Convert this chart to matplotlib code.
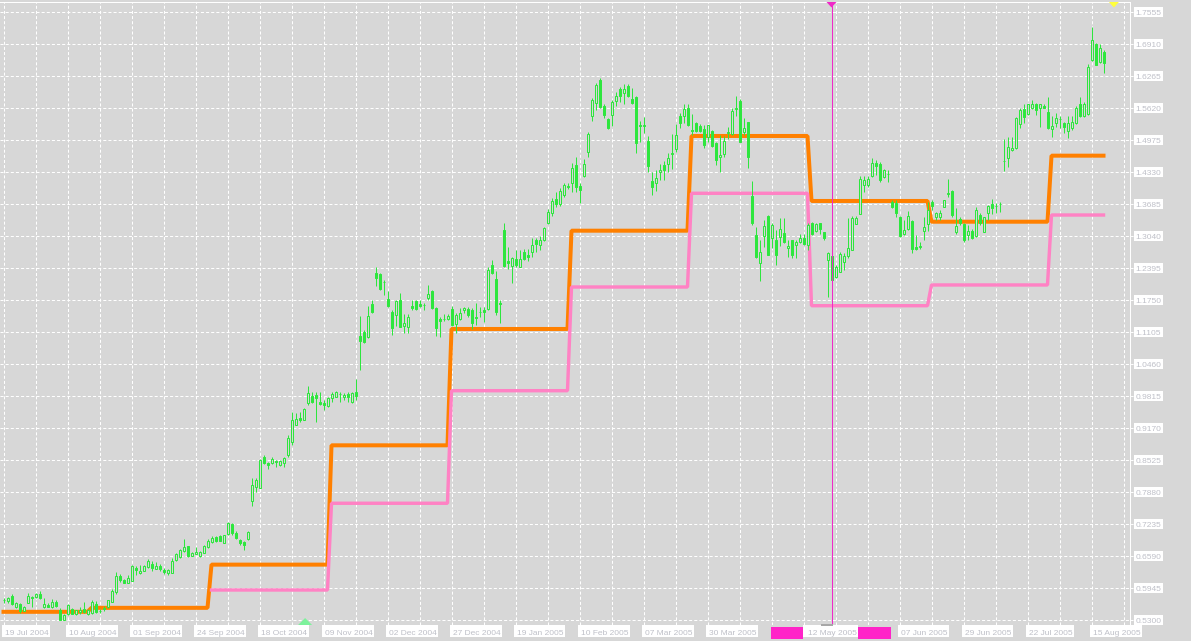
import numpy as np
import matplotlib
matplotlib.use('Agg')
import matplotlib.pyplot as plt
from matplotlib.patches import Rectangle, Polygon
from matplotlib.transforms import IdentityTransform, blended_transform_factory

# ---------------- data ----------------
opens = [
0.570,0.569,0.578,0.556,0.562,0.549,0.565,0.577,0.576,0.582,
0.556,0.560,0.556,0.566,0.550,0.531,0.542,0.553,0.542,0.547,
0.553,0.543,0.545,0.562,0.549,0.552,0.556,0.567,0.587,0.619,
0.611,0.605,0.609,0.634,0.624,0.629,0.636,0.643,0.633,0.639,
0.631,0.625,0.625,0.650,0.656,0.670,0.679,0.660,0.664,0.658,
0.666,0.677,0.688,0.698,0.699,0.686,0.703,0.724,0.706,0.691,
0.687,0.693,0.769,0.799,0.797,0.858,0.847,0.846,0.850,0.842,
0.846,0.863,0.889,0.924,0.938,0.934,0.968,0.981,0.983,0.970,
0.968,0.962,0.977,0.980,0.985,0.979,0.986,0.969,0.989,1.102,
1.111,1.100,1.167,1.230,1.227,1.212,1.178,1.150,1.145,1.176,
1.123,1.120,1.163,1.172,1.167,1.165,1.180,1.193,1.158,1.137,
1.137,1.136,1.157,1.127,1.136,1.155,1.157,1.155,1.141,1.151,
1.154,1.156,1.246,1.217,1.168,1.316,1.254,1.244,1.257,1.242,
1.272,1.266,1.272,1.296,1.286,1.295,1.330,1.350,1.378,1.368,
1.387,1.405,1.410,1.447,1.405,1.424,1.474,1.545,1.573,1.618,
1.566,1.539,1.548,1.577,1.600,1.593,1.606,1.580,1.585,1.528,
1.526,1.496,1.415,1.410,1.432,1.447,1.450,1.470,1.479,1.546,
1.545,1.561,1.517,1.531,1.526,1.520,1.503,1.516,1.492,1.463,
1.469,1.512,1.510,1.560,1.577,1.514,1.534,1.385,1.306,1.249,
1.305,1.344,1.299,1.296,1.301,1.311,1.279,1.296,1.285,1.291,
1.299,1.286,1.330,1.315,1.330,1.313,1.256,1.264,1.221,1.232,
1.252,1.264,1.276,1.328,1.348,1.407,1.407,1.424,1.452,1.450,
1.422,1.429,1.373,1.370,1.343,1.308,1.319,1.334,1.281,1.282,
1.315,1.328,1.373,1.342,1.343,1.363,1.388,1.395,1.313,1.338,
1.328,1.306,1.315,1.303,1.346,1.313,1.351,1.368,1.364,1.368,
1.455,1.461,1.477,1.481,1.530,1.559,1.550,1.561,1.570,1.563,
1.566,1.553,1.519,1.531,1.539,1.531,1.516,1.521,1.531,1.570,
1.546,1.550,1.659,1.691,1.655,1.674]

highs = [
0.574,0.576,0.582,0.567,0.565,0.558,0.584,0.578,0.584,0.589,
0.574,0.564,0.572,0.570,0.554,0.543,0.562,0.554,0.551,0.557,
0.567,0.553,0.570,0.569,0.553,0.558,0.571,0.592,0.627,0.623,
0.612,0.621,0.641,0.639,0.641,0.640,0.652,0.648,0.646,0.642,
0.634,0.633,0.654,0.666,0.674,0.693,0.680,0.668,0.678,0.669,
0.682,0.693,0.699,0.700,0.701,0.702,0.728,0.726,0.709,0.694,
0.689,0.709,0.816,0.816,0.854,0.863,0.849,0.858,0.853,0.853,
0.858,0.903,0.950,0.948,0.950,0.957,1.002,0.990,0.990,0.990,
0.973,0.980,0.990,0.992,0.989,0.987,0.989,0.990,1.015,1.143,
1.114,1.163,1.174,1.242,1.229,1.215,1.193,1.155,1.176,1.190,
1.147,1.147,1.175,1.175,1.175,1.168,1.205,1.195,1.160,1.140,
1.146,1.147,1.163,1.148,1.158,1.160,1.160,1.158,1.168,1.160,
1.160,1.241,1.256,1.234,1.175,1.330,1.281,1.261,1.276,1.275,
1.277,1.277,1.299,1.299,1.303,1.323,1.358,1.380,1.392,1.400,
1.410,1.410,1.451,1.464,1.410,1.459,1.514,1.582,1.612,1.622,
1.571,1.541,1.578,1.595,1.605,1.610,1.610,1.602,1.586,1.536,
1.543,1.506,1.434,1.437,1.449,1.456,1.471,1.510,1.530,1.551,
1.570,1.570,1.550,1.533,1.530,1.528,1.528,1.518,1.494,1.508,
1.506,1.524,1.563,1.586,1.580,1.541,1.534,1.414,1.323,1.296,
1.336,1.346,1.330,1.316,1.340,1.340,1.296,1.296,1.296,1.309,
1.309,1.330,1.333,1.330,1.331,1.313,1.272,1.266,1.246,1.272,
1.269,1.340,1.344,1.344,1.425,1.424,1.424,1.461,1.457,1.454,
1.440,1.438,1.376,1.376,1.344,1.336,1.355,1.336,1.306,1.291,
1.343,1.373,1.376,1.353,1.357,1.377,1.418,1.397,1.360,1.343,
1.331,1.326,1.319,1.362,1.350,1.343,1.366,1.378,1.371,1.373,
1.499,1.504,1.504,1.543,1.563,1.571,1.571,1.579,1.573,1.571,
1.570,1.584,1.545,1.551,1.545,1.534,1.546,1.546,1.566,1.584,
1.575,1.651,1.726,1.694,1.692,1.678]

lows = [
0.565,0.565,0.560,0.554,0.545,0.548,0.564,0.557,0.574,0.572,
0.554,0.556,0.554,0.556,0.530,0.530,0.541,0.542,0.541,0.543,
0.545,0.541,0.543,0.545,0.545,0.549,0.555,0.566,0.583,0.607,
0.604,0.604,0.608,0.621,0.623,0.628,0.635,0.629,0.632,0.629,
0.623,0.621,0.624,0.649,0.655,0.668,0.657,0.659,0.663,0.657,
0.665,0.675,0.686,0.688,0.689,0.685,0.702,0.702,0.694,0.682,
0.672,0.692,0.760,0.789,0.796,0.844,0.834,0.845,0.839,0.840,
0.839,0.859,0.883,0.923,0.930,0.933,0.963,0.968,0.930,0.963,
0.953,0.960,0.970,0.979,0.970,0.974,0.970,0.968,0.973,1.034,
1.088,1.098,1.148,1.204,1.195,1.185,1.160,1.104,1.123,1.120,
1.108,1.108,1.154,1.154,1.160,1.154,1.175,1.156,1.103,1.100,
1.133,1.135,1.123,1.108,1.135,1.148,1.140,1.116,1.125,1.141,
1.131,1.155,1.227,1.145,1.129,1.242,1.237,1.210,1.242,1.241,
1.256,1.254,1.262,1.272,1.276,1.293,1.328,1.345,1.362,1.365,
1.383,1.398,1.393,1.393,1.370,1.422,1.464,1.535,1.558,1.563,
1.541,1.519,1.526,1.566,1.575,1.571,1.584,1.571,1.472,1.494,
1.512,1.432,1.387,1.395,1.417,1.416,1.434,1.440,1.474,1.521,
1.532,1.526,1.508,1.514,1.514,1.481,1.494,1.483,1.447,1.434,
1.464,1.499,1.508,1.545,1.494,1.508,1.442,1.326,1.259,1.214,
1.281,1.266,1.279,1.246,1.283,1.289,1.262,1.259,1.259,1.289,
1.286,1.276,1.306,1.313,1.309,1.296,1.182,1.212,1.219,1.232,
1.235,1.259,1.276,1.328,1.348,1.393,1.403,1.422,1.427,1.413,
1.420,1.413,1.360,1.342,1.301,1.306,1.316,1.269,1.276,1.277,
1.296,1.315,1.356,1.336,1.336,1.362,1.383,1.343,1.309,1.326,
1.291,1.296,1.297,1.301,1.326,1.313,1.336,1.348,1.351,1.353,
1.436,1.444,1.476,1.479,1.521,1.532,1.548,1.559,1.548,1.524,
1.561,1.519,1.503,1.523,1.521,1.512,1.501,1.518,1.530,1.544,
1.544,1.548,1.657,1.649,1.653,1.633]

closes = [
0.571,0.574,0.562,0.564,0.549,0.556,0.578,0.575,0.582,0.574,
0.562,0.557,0.566,0.558,0.531,0.540,0.561,0.543,0.550,0.551,
0.547,0.550,0.567,0.546,0.549,0.555,0.570,0.589,0.619,0.611,
0.605,0.614,0.639,0.631,0.629,0.638,0.648,0.635,0.639,0.632,
0.627,0.631,0.648,0.663,0.672,0.677,0.658,0.666,0.667,0.668,
0.679,0.689,0.695,0.689,0.690,0.701,0.725,0.705,0.695,0.685,
0.682,0.708,0.802,0.812,0.853,0.846,0.842,0.855,0.848,0.850,
0.856,0.896,0.934,0.935,0.933,0.955,0.987,0.970,0.978,0.965,
0.963,0.977,0.986,0.990,0.986,0.984,0.979,0.988,0.982,1.093,
1.090,1.143,1.150,1.220,1.197,1.211,1.162,1.118,1.172,1.121,
1.128,1.140,1.158,1.157,1.163,1.164,1.188,1.158,1.118,1.133,
1.136,1.143,1.125,1.145,1.148,1.158,1.145,1.128,1.138,1.150,
1.150,1.236,1.229,1.151,1.166,1.244,1.250,1.259,1.246,1.257,
1.257,1.261,1.286,1.288,1.296,1.320,1.352,1.375,1.368,1.395,
1.407,1.402,1.442,1.403,1.397,1.449,1.510,1.578,1.608,1.565,
1.548,1.521,1.575,1.586,1.586,1.600,1.586,1.573,1.491,1.526,
1.528,1.445,1.403,1.420,1.437,1.437,1.461,1.472,1.508,1.532,
1.559,1.528,1.515,1.516,1.516,1.487,1.528,1.485,1.457,1.467,
1.496,1.514,1.555,1.562,1.494,1.521,1.464,1.330,1.261,1.271,
1.324,1.266,1.326,1.266,1.319,1.291,1.284,1.266,1.291,1.299,
1.288,1.326,1.308,1.328,1.319,1.299,1.270,1.215,1.241,1.268,
1.264,1.279,1.340,1.340,1.418,1.417,1.418,1.452,1.446,1.417,
1.438,1.429,1.362,1.350,1.303,1.317,1.344,1.277,1.278,1.283,
1.323,1.356,1.364,1.350,1.351,1.377,1.390,1.346,1.324,1.330,
1.296,1.315,1.299,1.356,1.330,1.342,1.364,1.360,1.365,1.369,
1.456,1.483,1.481,1.541,1.558,1.544,1.570,1.570,1.557,1.570,
1.563,1.521,1.526,1.541,1.540,1.523,1.532,1.534,1.563,1.546,
1.570,1.644,1.700,1.649,1.682,1.652]

# step levels (orange upper / pink lower), with first bar index of each step
orange_starts = [0, 22, 52, 82, 112, 142, 172, 202, 232, 262]
orange_levels = [0.5465, 0.5545, 0.6416, 0.8821, 1.1166, 1.3147, 1.5056, 1.3746, 1.3328, 1.4659]
pink_starts = [52, 82, 112, 142, 172, 202, 232, 262]
pink_levels = [0.5905, 0.7653, 0.9922, 1.2012, 1.3901, 1.1635, 1.2053, 1.3463]

price_labels = ['0.5300', '0.5945', '0.6590', '0.7235', '0.7880', '0.8525', '0.9170',
                '0.9815', '1.0460', '1.1105', '1.1750', '1.2395', '1.3040', '1.3685',
                '1.4330', '1.4975', '1.5620', '1.6265', '1.6910', '1.7555']
price_ticks = [float(s) for s in price_labels]

date_bars = [0, 16, 32, 48, 64, 80, 96, 112, 128, 144, 160, 176, 224, 240, 256, 272]
date_labels = ['19 Jul 2004', '10 Aug 2004', '01 Sep 2004', '24 Sep 2004', '18 Oct 2004',
               '09 Nov 2004', '02 Dec 2004', '27 Dec 2004', '19 Jan 2005', '10 Feb 2005',
               '07 Mar 2005', '30 Mar 2005', '07 Jun 2005', '29 Jun 2005', '22 Jul 2005',
               '15 Aug 2005']
cursor_bar = 207
cursor_label = '12 May 2005'

# ---------------- style ----------------
BG = '#d7d7d7'
GREEN = '#2ee63e'
ORANGE = '#ff8000'
PINK = '#ff82c4'
MAGENTA = '#f028c8'
TXT = '#bfc0c8'
FONT = 'Liberation Sans'
W, H = 1191, 641
PX = 0.72  # one pixel in points at 100 dpi

plt.rcParams['lines.scale_dashes'] = False
fig = plt.figure(figsize=(W / 100, H / 100), dpi=100, facecolor=BG)
ax_top, ax_bot, ax_right = 2, 625, 1130
ax = fig.add_axes([0, (H - ax_bot) / H, ax_right / W, (ax_bot - ax_top) / H])
ax.set_facecolor(BG)

bar_px = 4.0
x0 = 3.5
ax.set_xlim(-x0 / bar_px, (ax_right - x0) / bar_px)
pp = (price_ticks[1] - price_ticks[0]) / 32.0
ax.set_ylim(price_ticks[0] - 5 * pp, price_ticks[-1] + 10 * pp)
ax.set_xticks([]); ax.set_yticks([])
for s in ['left', 'bottom']:
    ax.spines[s].set_visible(False)
for s in ['top', 'right']:
    ax.spines[s].set_color('white')
    ax.spines[s].set_linewidth(PX)

dash = (0, (2.2, 1.5))
xl = ax.get_xlim()
for p in price_ticks:
    ax.plot([xl[0], xl[1] + 0.8], [p, p], color='white', lw=PX, ls=dash,
            clip_on=False, zorder=1)
for b in range(0, 281, 8):
    ax.axvline(b, color='white', lw=PX, ls=dash, zorder=1)

n = len(closes)
xs = np.arange(n)

def steps(starts, levels, n):
    v = np.full(n, np.nan)
    ends = starts[1:] + [n]
    for s, e, lv in zip(starts, ends, levels):
        v[s:e] = lv
    return v

orange = steps(orange_starts, orange_levels, n)
pink = steps(pink_starts, pink_levels, n)
ax.plot(xs, orange, color=ORANGE, lw=4 * PX, solid_joinstyle='bevel',
        solid_capstyle='projecting', zorder=2)
ax.plot(xs, pink, color=PINK, lw=3.4 * PX, solid_joinstyle='bevel',
        solid_capstyle='projecting', zorder=3)

o = np.array(opens); c = np.array(closes)
hi = np.array(highs); lo = np.array(lows)
up = c >= o
ax.vlines(xs, lo, hi, color=GREEN, lw=PX, zorder=4)
ax.bar(xs, np.abs(c - o), bottom=np.minimum(o, c), width=0.5,
       color=[BG if u else GREEN for u in up], edgecolor=GREEN,
       linewidth=PX, zorder=5)

# cursor line
ax.axvline(cursor_bar, color=MAGENTA, lw=PX, zorder=6)

# ---------------- labels in pixel space ----------------
ID = IdentityTransform()
def ypix(top_px):
    return H - top_px

for p, lab in zip(price_ticks, price_labels):
    yd = ax.transData.transform((0, p))[1]
    fig.add_artist(Rectangle((1134, yd - 5), 29, 10, transform=ID,
                             fc='white', ec='none', zorder=1))
    fig.text(1135.5, yd - 3.2, lab, transform=ID, ha='left', va='baseline',
             fontsize=6, family=FONT, color=TXT, zorder=2)

fig.canvas.draw()
rend = fig.canvas.get_renderer()
for b, lab in zip(date_bars, date_labels):
    xd = ax.transData.transform((b, 0))[0]
    t = fig.text(xd + 1.5, ypix(635), lab, transform=ID, ha='left', va='baseline',
                 fontsize=6, family=FONT, color=TXT, zorder=2)
    bb = t.get_window_extent(rend)
    fig.add_artist(Rectangle((xd - 2, ypix(637)), bb.width + 5, 12, transform=ID,
                             fc='white', ec='none', zorder=1))

xc = ax.transData.transform((cursor_bar, 0))[0]
t = fig.text(xc + 1, ypix(635), cursor_label, transform=ID, ha='center',
             va='baseline', fontsize=6, family=FONT, color=TXT, zorder=2)
fig.add_artist(Rectangle((803, ypix(637)), 55, 12, transform=ID,
                         fc='white', ec='none', zorder=1))
fig.add_artist(Rectangle((771, ypix(639)), 32, 12, transform=ID,
                         fc='#ff24c8', ec='none', zorder=1))
fig.add_artist(Rectangle((858, ypix(639)), 33, 12, transform=ID,
                         fc='#ff24c8', ec='none', zorder=1))
fig.add_artist(Rectangle((xc - 11, ypix(626)), 12, 2, transform=ID,
                         fc='#a8a8a8', ec='none', zorder=1))

# markers
def tri_down(cx, color):
    fig.add_artist(Polygon([(cx - 5, ypix(2)), (cx + 5, ypix(2)), (cx, ypix(7.5))],
                           closed=True, transform=ID, fc=color, ec='none', zorder=3))

tri_down(xc, MAGENTA)
tri_down(ax.transData.transform((n + 1.6, 0))[0], '#ffff3c')
gx = ax.transData.transform((75.4, 0))[0]
fig.add_artist(Polygon([(gx - 7, ypix(625)), (gx + 7, ypix(625)), (gx, ypix(618))],
                       closed=True, transform=ID, fc='#7ef29c', ec='none', zorder=3))

fig.savefig('out.png', dpi=100, facecolor=BG)
